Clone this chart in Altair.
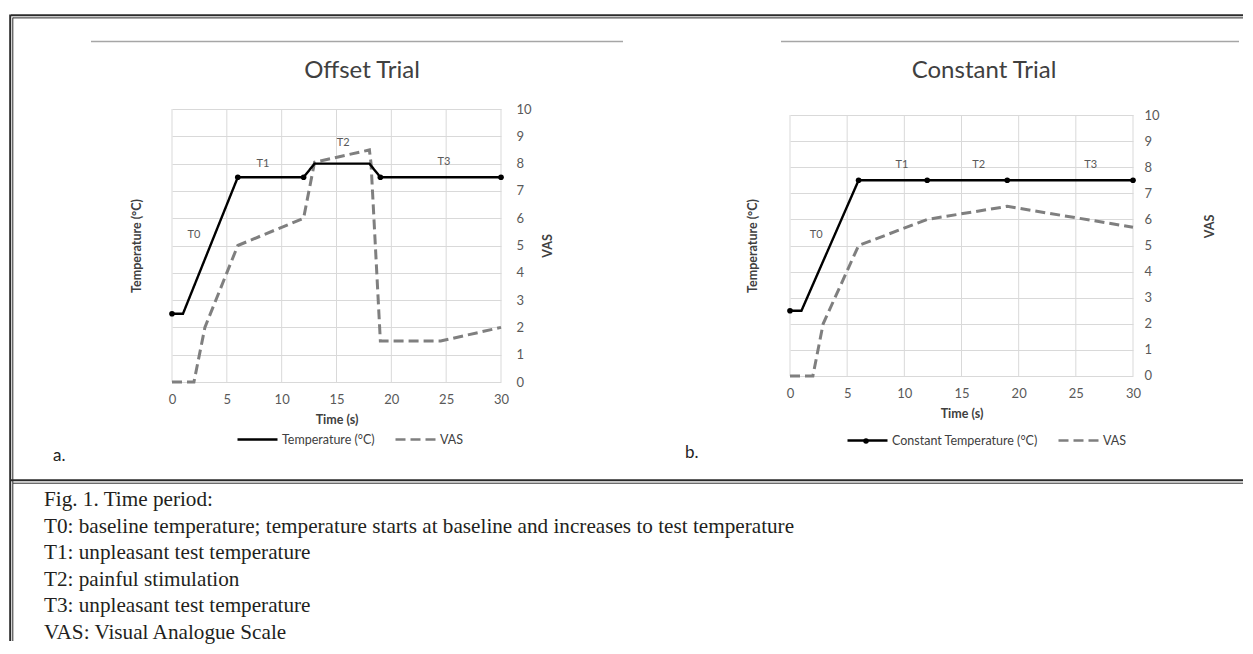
import altair as alt
import pandas as pd

# ---------------- data ----------------
time_ticks = [0, 5, 10, 15, 20, 25, 30]
vas_ticks = [0, 1, 2, 3, 4, 5, 6, 7, 8, 9, 10]

offset_temp_time = [0, 1, 6, 12, 13, 18, 19, 30]
offset_temp_val = [2.5, 2.5, 7.5, 7.5, 8.0, 8.0, 7.5, 7.5]
offset_marker_time = [0, 6, 12, 19, 30]
offset_marker_val = [2.5, 7.5, 7.5, 7.5, 7.5]
offset_vas_time = [0, 2, 3, 6, 12, 13, 18, 18.15, 19, 24.5, 30]
offset_vas_val = [0, 0, 2, 5, 6, 8.05, 8.5, 8.0, 1.5, 1.5, 2.0]

constant_temp_time = [0, 1, 6, 12, 19, 30]
constant_temp_val = [2.5, 2.5, 7.5, 7.5, 7.5, 7.5]
constant_marker_time = [0, 6, 12, 19, 30]
constant_marker_val = [2.5, 7.5, 7.5, 7.5, 7.5]
constant_vas_time = [0, 2, 2.9, 6, 12, 19, 30]
constant_vas_val = [0, 0, 2, 5, 6, 6.5, 5.7]

period_labels = ["T0", "T1", "T2", "T3"]
offset_label_time = [2.0, 8.3, 15.6, 24.8]
offset_label_val = [5.4, 8.0, 8.75, 8.05]
constant_label_time = [2.3, 9.8, 16.5, 26.3]
constant_label_val = [5.4, 8.1, 8.1, 8.1]

panel_titles = ["Offset Trial", "Constant Trial"]
panel_letters = ["a.", "b."]

caption_lines = [
    "Fig. 1. Time period:",
    "T0: baseline temperature; temperature starts at baseline and increases to test temperature",
    "T1: unpleasant test temperature",
    "T2: painful stimulation",
    "T3: unpleasant test temperature",
    "VAS: Visual Analogue Scale",
]

# ---------------- style ----------------
FONT = "Lato"
GRID = "#d9d9d9"
DARK = "#404040"
LX, RX, TY = 171, 789, 108   # page position of the two plot areas

one = pd.DataFrame({"k": [0]})


def hline(x1, x2, y, w, color, ox):
    return alt.Chart(one).mark_rule(color=color, strokeWidth=w).encode(
        x=alt.value(x1 - ox), x2=alt.value(x2 - ox), y=alt.value(y - TY))


def vline(x, y1, y2, w, color, ox):
    return alt.Chart(one).mark_rule(color=color, strokeWidth=w).encode(
        x=alt.value(x - ox), y=alt.value(y1 - TY), y2=alt.value(y2 - TY))


def free_text(txt, x, y, ox, **kw):
    return alt.Chart(one).mark_text(text=txt, **kw).encode(
        x=alt.value(x - ox), y=alt.value(y - TY))


def make_panel(temp_name, t_time, t_val, m_time, m_val, v_time, v_val,
               l_time, l_val, width, y_domain, x_offset, vas_label_pad, vas_title_pad,
               vas_title_y, temp_title_pad, legend_x, legend_y, extra):
    height = 273
    xscale = alt.Scale(domain=[0, 30], nice=False, zero=False)
    yscale = alt.Scale(domain=y_domain, nice=False, zero=False)
    xaxis = alt.Axis(values=time_ticks, title="Time (s)", grid=False, domain=False,
                     ticks=False, tickSize=0, labelPadding=11, labelFlush=False,
                     titlePadding=7, offset=x_offset)
    temp_axis = alt.Axis(orient="left", labels=False, ticks=False, tickSize=0,
                         domain=False, grid=False, title="Temperature (°C)",
                         titlePadding=temp_title_pad)
    vas_kw = dict(orient="right", values=vas_ticks, ticks=False, tickSize=0, domain=False,
                  grid=True, gridColor=GRID, gridWidth=1, labelPadding=vas_label_pad,
                  labelFlush=False, title="VAS", titleAngle=270, titleBaseline="top",
                  titlePadding=vas_title_pad)
    if vas_title_y is not None:
        vas_kw["titleY"] = vas_title_y
    vas_axis = alt.Axis(**vas_kw)

    domain = [temp_name, "VAS"]
    legend = alt.Legend(orient="none", legendX=legend_x, legendY=legend_y,
                        direction="horizontal", title=None, symbolType="stroke",
                        symbolSize=1600, symbolStrokeWidth=2.5, labelFont=FONT,
                        labelFontSize=12.5, labelColor=DARK, labelOffset=3,
                        columnPadding=15, padding=0)
    color = alt.Color("series:N", scale=alt.Scale(domain=domain, range=["#000000", "#7f7f7f"]),
                      legend=legend)
    dash = alt.StrokeDash("series:N", scale=alt.Scale(domain=domain, range=[[1, 0], [10, 5]]),
                          legend=legend)

    df_t = pd.DataFrame({"time": t_time, "value": t_val, "series": temp_name})
    df_v = pd.DataFrame({"time": v_time, "value": v_val, "series": "VAS"})
    df_m = pd.DataFrame({"time": m_time, "value": m_val})
    df_l = pd.DataFrame({"time": l_time, "value": l_val, "label": period_labels})
    df_g = pd.DataFrame({"time": time_ticks, "lo": 0, "hi": 10})

    X = alt.X("time:Q", scale=xscale, axis=xaxis)

    grid = alt.Chart(df_g).mark_rule(color=GRID, strokeWidth=1).encode(
        x=X, y=alt.Y("lo:Q", scale=yscale, axis=None), y2="hi:Q")
    vas = alt.Chart(df_v).mark_line(strokeWidth=3).encode(
        x=X, y=alt.Y("value:Q", scale=yscale, axis=vas_axis), color=color, strokeDash=dash)
    temp = alt.Chart(df_t).mark_line(strokeWidth=2.4).encode(
        x=X, y=alt.Y("value:Q", scale=yscale, axis=temp_axis), color=color, strokeDash=dash)
    marks = alt.Chart(df_m).mark_circle(size=32, color="black", opacity=1).encode(
        x=X, y=alt.Y("value:Q", scale=yscale, axis=None))
    labels = alt.Chart(df_l).mark_text(font=FONT, fontSize=11, color="#595959").encode(
        x=X, y=alt.Y("value:Q", scale=yscale, axis=None), text="label:N")

    return alt.layer(grid, vas, temp, marks, labels, *extra).resolve_scale(
        y="independent"
    ).properties(width=width, height=height)


# decorations (frame, divider, titles, caption, panel letters)
BORDER = "#2b2b2b"
title_kw = dict(font=FONT, fontSize=24, color=DARK, align="center", baseline="alphabetic")
letter_kw = dict(font=FONT, fontSize=17, color="#222222", align="left", baseline="middle")
left_extra = [
    vline(9.2, 13.5, 640, 2, BORDER, LX),
    vline(11.8, 16.5, 640, 1, BORDER, LX),
    hline(10, 1242, 14.3, 2, BORDER, LX),
    hline(12, 1242, 16.9, 1, BORDER, LX),
    hline(10, 1242, 479.3, 2, BORDER, LX),
    hline(12, 1242, 482.2, 1, BORDER, LX),
    hline(90, 622, 40.5, 1.5, "#a6a6a6", LX),
    free_text(panel_titles[0], 361, 77, LX, **title_kw),
    free_text(panel_letters[0], 52, 455, LX, **letter_kw),
    free_text(caption_lines, 43, 505, LX, font="Liberation Serif", fontSize=21.2,
              color="#231f20", align="left", baseline="alphabetic", lineHeight=26.6),
]
right_extra = [
    hline(780, 1238, 40.5, 1.5, "#a6a6a6", RX),
    free_text(panel_titles[1], 983, 77, RX, **title_kw),
    free_text(panel_letters[1], 684, 452, RX, **letter_kw),
    alt.Chart(one).mark_circle(size=30, color="black", opacity=1).encode(
        x=alt.value(865 - RX), y=alt.value(440 - TY)),
]

left = make_panel("Temperature (°C)",
                  offset_temp_time, offset_temp_val, offset_marker_time, offset_marker_val,
                  offset_vas_time, offset_vas_val, offset_label_time, offset_label_val,
                  width=329, y_domain=[0, 10], x_offset=0, vas_label_pad=15,
                  vas_title_pad=10, vas_title_y=None, temp_title_pad=29,
                  legend_x=235 - LX, legend_y=309, extra=left_extra)

right = make_panel("Constant Temperature (°C)",
                   constant_temp_time, constant_temp_val, constant_marker_time,
                   constant_marker_val, constant_vas_time, constant_vas_val,
                   constant_label_time, constant_label_val,
                   width=343, y_domain=[-0.23, 10.23], x_offset=-6, vas_label_pad=11,
                   vas_title_pad=44, vas_title_y=225 - TY, temp_title_pad=31,
                   legend_x=845 - RX, legend_y=310, extra=right_extra)

chart = alt.hconcat(left, right, spacing=RX - LX - 329, bounds="flush").resolve_scale(
    color="independent", strokeDash="independent"
).properties(
    padding={"left": 0, "top": 5, "right": 0, "bottom": 0},
    background="white",
).configure_view(
    stroke="transparent"
).configure_axis(
    labelFont=FONT, labelFontSize=13, labelColor="#595959",
    titleFont=FONT, titleFontSize=12.5, titleFontWeight="bold", titleColor=DARK,
)

chart.save("out.html", embed_options={"renderer": "svg", "actions": False})
